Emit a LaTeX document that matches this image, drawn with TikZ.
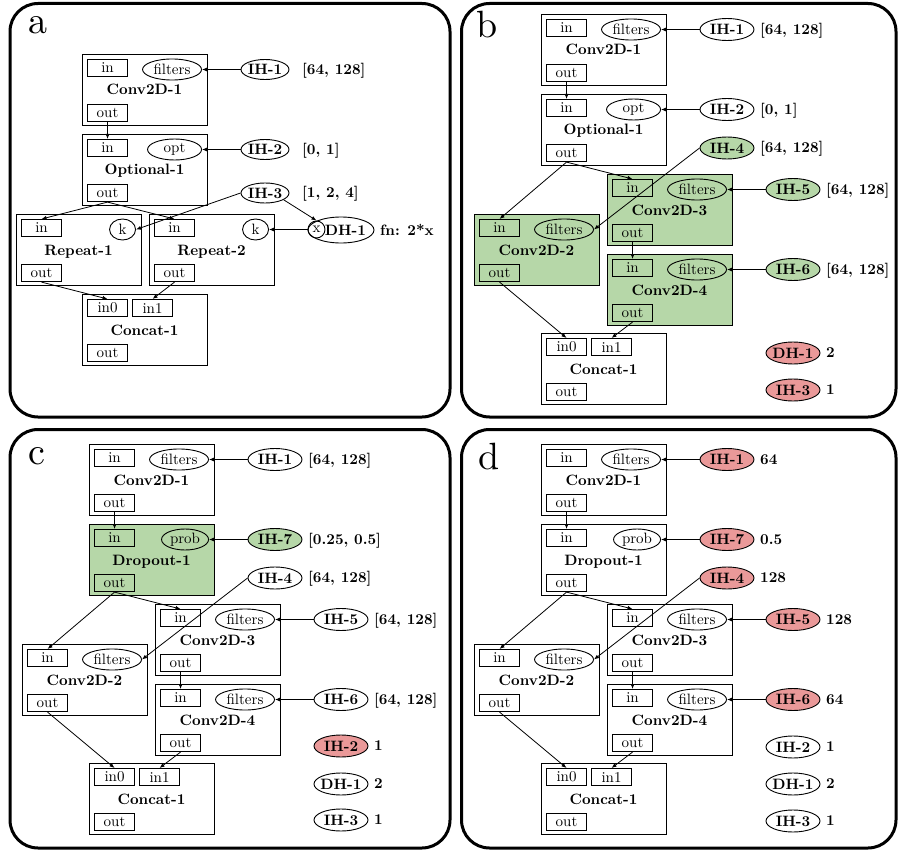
\documentclass[tikz,border=0pt]{standalone}
\usepackage{fontspec}
\setmainfont{lmroman10-regular.otf}[BoldFont=lmroman10-bold.otf, ItalicFont=lmroman10-italic.otf, BoldItalicFont=lmroman10-bolditalic.otf]
\usetikzlibrary{shapes.geometric,arrows.meta,calc}
\definecolor{hgreen}{RGB}{182,215,168}
\definecolor{hred}{RGB}{234,153,153}
\tikzset{
  panel/.style={draw, line width=3pt, rounded corners=28pt},
  modbox/.style={draw, line width=1.1pt, minimum width=125pt, minimum height=71pt, inner sep=0pt, anchor=north west},
  port/.style={draw, line width=1.1pt, minimum width=40pt, minimum height=17pt, inner sep=0pt, anchor=north west, font=\fontsize{15}{18}\selectfont},
  param/.style={ellipse, draw, line width=0.9pt, inner sep=0pt, minimum height=21pt, anchor=east, font=\fontsize{15}{18}\selectfont},
  title/.style={anchor=base, inner sep=0pt, font=\fontsize{15}{18}\selectfont\bfseries},
  hyp/.style={ellipse, draw, line width=0.9pt, inner sep=0pt, minimum height=22pt, minimum width=54pt, font=\fontsize{15}{18}\selectfont\bfseries},
  val/.style={anchor=base west, inner sep=0pt, font=\fontsize{15}{18}\selectfont\bfseries},
  arr/.style={line width=0.8pt, -{Latex[length=5pt,width=4pt]}},
  plabel/.style={anchor=base west, inner sep=0pt, font=\fontsize{38}{42}\selectfont},
  fc1/.style={fill=white}, fm1/.style={fill=white}, fc2/.style={fill=white},
  fc3/.style={fill=white}, fc4/.style={fill=white},
  fh1/.style={fill=white}, fhm/.style={fill=white}, fh4/.style={fill=white},
  fh5/.style={fill=white}, fh6/.style={fill=white},
}
% module with in port, parameter ellipse and out port
\newcommand{\stdmod}[7]{%
  \node[modbox, #7] (#1) at (#2,#3) {};
  \node[port] (#1-in) at ({#2+5},{#3+5}) {in};
  \node[port] (#1-out) at ({#2+5},{#3+50}) {out};
  \node[param, minimum width=#6] (#1-p) at ({#2+120},{#3+15.5}) {#5};
  \node[title] (#1-t) at ({#2+62.5},{#3+41}) {#4};
}
\newcommand{\concatmod}[3]{%
  \node[modbox, fill=white] (#1) at (#2,#3) {};
  \node[port] (#1-in0) at ({#2+5},{#3+5}) {in0};
  \node[port] (#1-in1) at ({#2+50},{#3+5}) {in1};
  \node[port] (#1-out) at ({#2+5},{#3+50}) {out};
  \node[title] (#1-t) at ({#2+62.5},{#3+41}) {Concat-1};
}
\newcommand{\hypnode}[7]{%
  \node[hyp, #5] (#1) at (#2,#3) {\makebox[26pt]{#4}};
  \node[val] (#1-v) at (#7,{#3+4.8}) {#6};
}
\newcommand{\bcdbody}[4]{%
  \stdmod{c1}{541}{14}{Conv2D-1}{filters}{59pt}{fc1}
  \stdmod{m1}{541}{94}{#1}{#2}{#3}{fm1}
  \stdmod{c3}{607}{174}{Conv2D-3}{filters}{59pt}{fc3}
  \stdmod{c4}{607}{254}{Conv2D-4}{filters}{59pt}{fc4}
  \stdmod{c2}{474}{214}{Conv2D-2}{filters}{59pt}{fc2}
  \concatmod{cc}{541}{333}
  \hypnode{h1}{727}{29.5}{IH-1}{fh1}{\vA}{760}
  \hypnode{hm}{727}{109.5}{#4}{fhm}{\vB}{760}
  \hypnode{h4}{727}{148}{IH-4}{fh4}{\vC}{760}
  \hypnode{h5}{793}{189.5}{IH-5}{fh5}{\vD}{826}
  \hypnode{h6}{793}{269.5}{IH-6}{fh6}{\vE}{826}
  \draw[arr] (c1-out.south) -- (m1-in.north);
  \draw[arr] (h1.west) -- (c1-p.east);
  \draw[arr] (hm.west) -- (m1-p.east);
  \draw[arr] (m1-out.south) -- (c2-in.north);
  \draw[arr] (m1-out.south) -- (c3-in.north);
  \draw[arr] (h4.west) -- (c2-p.east);
  \draw[arr] (h5.west) -- (c3-p.east);
  \draw[arr] (h6.west) -- (c4-p.east);
  \draw[arr] (c3-out.south) -- (c4-in.north);
  \draw[arr] (c2-out.south) -- (cc-in0.north);
  \draw[arr] (c4-out.south) -- (cc-in1.north);
}
\begin{document}
\begin{tikzpicture}[x=1pt, y=-1pt]
\useasboundingbox (0,0) rectangle (898,851);
% panel frames
\draw[panel] (10,3.5) rectangle (450,417);
\draw[panel] (461.5,3.5) rectangle (896,417);
\draw[panel] (10,429.5) rectangle (450,848);
\draw[panel] (461.5,429.5) rectangle (896,848);
\node[plabel] (la) at (28,34) {a};
\node[plabel] (lb) at (476,38) {b};
\node[plabel] (lc) at (28,464) {c};
\node[plabel] (ld) at (478,469) {d};

% ---------- panel a ----------
\begin{scope}[name prefix=a-]
  \tikzset{hyp/.append style={minimum width=48pt, minimum height=20pt}}
  \stdmod{c1}{82}{54}{Conv2D-1}{filters}{59pt}{fill=white}
  \stdmod{o1}{82}{134}{Optional-1}{opt}{54pt}{fill=white}
  \stdmod{r1}{16}{214}{Repeat-1}{k}{26pt}{fill=white}
  \stdmod{r2}{149}{214}{Repeat-2}{k}{26pt}{fill=white}
  \concatmod{cc}{82}{294}
  \hypnode{h1}{265}{69.5}{IH-1}{fill=white}{[64, 128]}{302}
  \hypnode{h2}{265}{149.5}{IH-2}{fill=white}{[0, 1]}{302}
  \hypnode{h3}{265}{193}{IH-3}{fill=white}{[1, 2, 4]}{302}
  \node[ellipse, draw, line width=0.9pt, inner sep=0pt, minimum width=66pt, minimum height=26pt,
        font=\fontsize{15}{18}\selectfont\bfseries] (dh) at (341,230) {\makebox[20pt]{\hspace*{9pt}DH-1}};
  \node[circle, draw, line width=0.9pt, inner sep=0pt, minimum size=17pt,
        font=\fontsize{15}{18}\selectfont] (dhx) at (316.5,229.5) {x};
  \node[val] (dh-v) at (380,235) {fn: 2*x};
  \draw[arr] (c1-out.south) -- (o1-in.north);
  \draw[arr] (h1.west) -- (c1-p.east);
  \draw[arr] (h2.west) -- (o1-p.east);
  \draw[arr] (o1-out.south) -- (r1-in.north);
  \draw[arr] (o1-out.south) -- (r2-in.north);
  \draw[arr] (h3.west) -- (r1-p.east);
  \draw[arr] (h3.-20) -- (dhx.north);
  \draw[arr] (dhx.west) -- (r2-p.east);
  \draw[arr] (r1-out.south) -- (cc-in0.north);
  \draw[arr] (r2-out.south) -- (cc-in1.north);
\end{scope}

% ---------- panel b ----------
\begin{scope}[name prefix=b-]
  \tikzset{fc2/.style={fill=hgreen}, fc3/.style={fill=hgreen}, fc4/.style={fill=hgreen},
           fh4/.style={fill=hgreen}, fh5/.style={fill=hgreen}, fh6/.style={fill=hgreen}}
  \def\vA{[64, 128]}\def\vB{[0, 1]}\def\vC{[64, 128]}\def\vD{[64, 128]}\def\vE{[64, 128]}
  \bcdbody{Optional-1}{opt}{54pt}{IH-2}
  \hypnode{dh}{793}{353}{DH-1}{fill=hred}{2}{826}
  \hypnode{h3}{793}{390}{IH-3}{fill=hred}{1}{826}
\end{scope}

% ---------- panel c ----------
\begin{scope}[name prefix=c-, shift={(-452,430)}]
  \tikzset{fm1/.style={fill=hgreen}, fhm/.style={fill=hgreen}}
  \def\vA{[64, 128]}\def\vB{[0.25, 0.5]}\def\vC{[64, 128]}\def\vD{[64, 128]}\def\vE{[64, 128]}
  \bcdbody{Dropout-1}{prob}{47pt}{IH-7}
  \hypnode{h2}{793}{316}{IH-2}{fill=hred}{1}{826}
  \hypnode{dh}{793}{354}{DH-1}{fill=white}{2}{826}
  \hypnode{h3}{793}{390}{IH-3}{fill=white}{1}{826}
\end{scope}

% ---------- panel d ----------
\begin{scope}[name prefix=d-, shift={(0,430)}]
  \tikzset{fh1/.style={fill=hred}, fhm/.style={fill=hred}, fh4/.style={fill=hred},
           fh5/.style={fill=hred}, fh6/.style={fill=hred}}
  \def\vA{64}\def\vB{0.5}\def\vC{128}\def\vD{128}\def\vE{64}
  \bcdbody{Dropout-1}{prob}{47pt}{IH-7}
  \hypnode{h2}{793}{317}{IH-2}{fill=white}{1}{826}
  \hypnode{dh}{793}{354}{DH-1}{fill=white}{2}{826}
  \hypnode{h3}{793}{391}{IH-3}{fill=white}{1}{826}
\end{scope}
\end{tikzpicture}
\end{document}
